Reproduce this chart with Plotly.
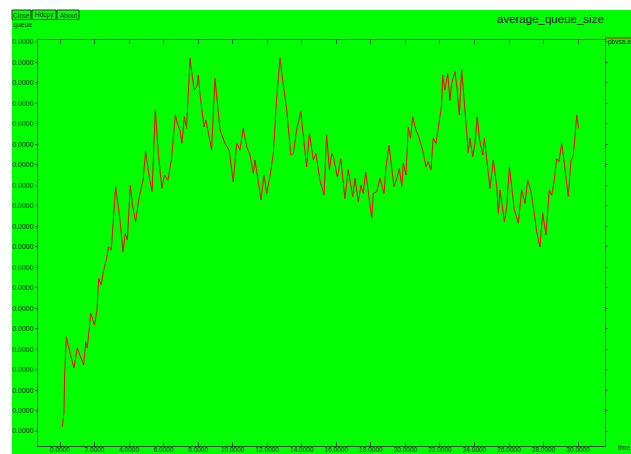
import plotly.graph_objects as go

# ---- data ----
time = [0.13, 0.2, 0.23, 0.27, 0.37, 0.6, 0.81, 1.0, 1.15, 1.37, 1.49, 1.58, 1.78, 2.0, 2.14, 2.24,
        2.39, 2.5, 2.64, 2.82, 2.97, 3.22, 3.45, 3.65, 3.78, 3.9, 4.07, 4.2, 4.38, 4.57, 4.81, 4.96,
        5.15, 5.33, 5.52, 5.7, 5.9, 6.05, 6.25, 6.45, 6.68, 6.8, 6.95, 7.06, 7.2, 7.33, 7.53, 7.76,
        7.92, 8.01, 8.1, 8.34, 8.45, 8.78, 8.97, 9.27, 9.55, 9.79, 10.03, 10.23, 10.42, 10.61, 10.81,
        11.0, 11.19, 11.29, 11.64, 11.81, 11.97, 12.2, 12.35, 12.55, 12.74, 12.84, 13.13, 13.36,
        13.51, 13.7, 13.94, 14.28, 14.44, 14.67, 14.82, 15.05, 15.29, 15.44, 15.6, 15.73, 15.83,
        16.06, 16.26, 16.5, 16.69, 16.95, 17.08, 17.27, 17.43, 17.56, 17.7, 17.85, 18.05, 18.14,
        18.34, 18.53, 18.76, 18.88, 19.05, 19.34, 19.53, 19.65, 19.79, 19.88, 20.03, 20.17, 20.3,
        20.42, 20.61, 20.74, 21.0, 21.19, 21.32, 21.48, 21.61, 21.77, 21.9, 22.1, 22.16, 22.29,
        22.45, 22.58, 22.68, 22.87, 23.0, 23.12, 23.26, 23.35, 23.64, 23.74, 23.9, 24.03, 24.16,
        24.28, 24.48, 24.57, 24.71, 24.9, 25.09, 25.29, 25.38, 25.48, 25.73, 25.87, 26.02, 26.31,
        26.54, 26.73, 26.93, 27.08, 27.25, 27.41, 27.6, 27.79, 27.95, 28.14, 28.33, 28.47, 28.6,
        28.76, 28.89, 29.05, 29.18, 29.43, 29.59, 29.72, 29.82, 29.92, 30.03]
queue = [4.2, 17, 17.6, 56.7, 92, 75, 61.5, 81, 75, 64.5, 87, 81, 115, 103.5, 118, 149,
         142.6, 155, 164, 180, 176.8, 238.7, 210, 175, 193, 186.6, 240, 220, 204.5, 227, 245, 273,
         250, 233.8, 313.6, 270, 237, 250, 245, 264.7, 308.7, 300, 294, 281, 307, 295.6, 364, 333,
         336, 347.7, 330, 297, 303.8, 274.5, 344.5, 294, 281, 274.5, 243.5, 281, 274.5, 295.6, 277.7,
         269.6, 251.7, 264.7, 225.7, 250, 232, 253, 271, 326.6, 364, 349.4, 313.6, 269.6,
         271, 294, 312, 258, 290.8, 264.7, 271, 245, 230.5, 289, 255, 271, 268,
         248, 266, 227, 255, 229, 246.8, 224, 240, 232, 253, 235, 207.8, 232,
         233.8, 246.8, 232, 258, 279, 238.7, 248, 256.6, 238.7, 261.5, 250, 297, 286,
         307, 294, 289, 274.5, 258, 263, 255, 286, 281, 297, 318.5, 347.7, 333,
         349.4, 323, 339.6, 351, 333, 308.7, 353, 333, 272, 286, 268, 281, 307,
         286, 269.6, 286, 264.7, 237, 264.7, 238.7, 212.7, 235.4, 204.5, 219, 258, 216,
         203, 235.4, 222.4, 245, 235.4, 219, 194.7, 180, 212.7, 191.5, 235.4, 230.5, 242,
         266, 263, 281, 264.7, 229, 264.7, 268, 287.5, 308.7, 295.6]

x_tick_vals = [0, 2, 4, 6, 8, 10, 12, 14, 16, 18, 20, 22, 24, 26, 28, 30]
x_tick_text = ["0.0000", "2.0000", "4.0000", "6.0000", "8.0000", "10.0000", "12.0000", "14.0000",
               "16.0000", "18.0000", "20.0000", "22.0000", "24.0000", "26.0000", "28.0000", "30.0000"]
y_tick_vals = [0, 20, 40, 60, 80, 100, 120, 140, 160, 180, 200, 220, 240, 260, 280, 300, 320, 340, 360, 380]
y_tick_text = ["0.0000", "20.0000", "40.0000", "60.0000", "80.0000", "00.0000", "20.0000", "40.0000",
               "60.0000", "80.0000", "00.0000", "20.0000", "40.0000", "60.0000", "80.0000", "00.0000",
               "20.0000", "40.0000", "60.0000", "80.0000"]

title_text = "average_queue_size"
legend_text = "pbvsa.a"
x_label = "time"
y_label = "queue"
buttons = ["Close", "Hdcpy", "About"]

# ---- layout geometry (pixels) ----
W, H = 631, 454
L, R, T, B = 38, 605, 40, 446
GREEN = "#00ff00"
INK = "#1e1e1e"
FONT = "Liberation Sans, Arial, sans-serif"

def px(x):
    return (x - L) / (R - L)

def py(y):
    return (B - y) / (B - T)

fig = go.Figure()
fig.add_trace(go.Scatter(x=time, y=queue, mode="lines",
                         line=dict(color="#ff0000", width=1), showlegend=False,
                         hoverinfo="skip"))

axis_common = dict(showgrid=False, zeroline=False, showline=True, linecolor="#1f4f1f",
                   linewidth=1, mirror="allticks", tickcolor="#1f4f1f", automargin=False)

fig.update_xaxes(range=[(L - 60) / 17.27, (R - 60) / 17.27], tickmode="array",
                 tickvals=x_tick_vals, ticktext=x_tick_text, ticks="inside", ticklen=4,
                 ticklabelstandoff=-3,
                 tickfont=dict(family=FONT, size=6.5, color=INK), **axis_common)
fig.update_yaxes(range=[(431 - B) / 1.0237, (431 - T) / 1.0237], tickmode="array",
                 tickvals=y_tick_vals, ticktext=y_tick_text, ticks="outside", ticklen=2,
                 tickfont=dict(family=FONT, size=7, color=INK), **axis_common)

shapes = [
    # white window strips
    dict(type="rect", xref="paper", yref="paper", x0=px(0), x1=px(12), y0=py(H + 5), y1=py(-5),
         fillcolor="white", line=dict(width=0), layer="above"),
    dict(type="rect", xref="paper", yref="paper", x0=px(0), x1=px(W + 5), y0=py(10), y1=py(-5),
         fillcolor="white", line=dict(width=0), layer="above"),
    # legend line
    dict(type="line", xref="paper", yref="paper", x0=px(605), x1=px(W + 2), y0=py(38), y1=py(38),
         line=dict(color="#ff0000", width=1)),
]
annotations = [
    dict(text=title_text, xref="paper", yref="paper", x=px(550), y=py(19), xanchor="center",
         yanchor="middle", showarrow=False, font=dict(family=FONT, size=11.5, color="#111111")),
    dict(text=legend_text, xref="paper", yref="paper", x=px(606), y=py(42), xanchor="left",
         yanchor="middle", showarrow=False, font=dict(family=FONT, size=6.5, color=INK)),
    dict(text=x_label, xref="paper", yref="paper", x=px(616), y=py(447), xanchor="left",
         yanchor="middle", showarrow=False, font=dict(family=FONT, size=6.5, color=INK)),
    dict(text=y_label, xref="paper", yref="paper", x=px(11), y=py(25), xanchor="left",
         yanchor="middle", showarrow=False, font=dict(family=FONT, size=7, color=INK)),
]
btn_boxes = [(12, 31), (32, 56), (57, 79)]
for name, (a, b) in zip(buttons, btn_boxes):
    shapes.append(dict(type="rect", xref="paper", yref="paper", x0=px(a), x1=px(b),
                       y0=py(19.5), y1=py(10), line=dict(color="#2a3a2a", width=1),
                       fillcolor=GREEN, layer="above"))
    annotations.append(dict(text=name, xref="paper", yref="paper", x=px((a + b) / 2), y=py(15),
                            xanchor="center", yanchor="middle", showarrow=False,
                            font=dict(family=FONT, size=6.5, color=INK)))

fig.update_layout(width=W, height=H, margin=dict(l=L, r=W - R, t=T, b=H - B, pad=0),
                  paper_bgcolor=GREEN, plot_bgcolor=GREEN, template="none",
                  shapes=shapes, annotations=annotations, showlegend=False)

fig.write_html("out.html", config={"displayModeBar": False})
